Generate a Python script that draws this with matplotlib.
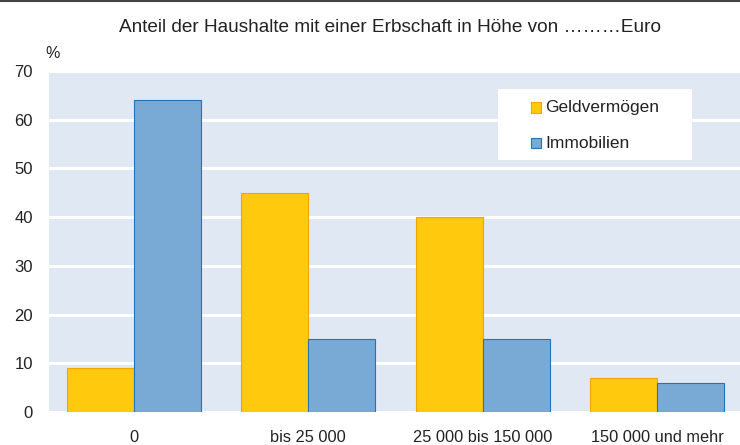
import matplotlib
matplotlib.use("Agg")
import matplotlib.pyplot as plt
from matplotlib.patches import Rectangle
from matplotlib.lines import Line2D
import numpy as np

plt.rcParams['font.family'] = ['Liberation Sans', 'DejaVu Sans']

categories = ["0", "bis 25 000", "25 000 bis 150 000", "150 000 und mehr"]
series_names = ["Geldvermögen", "Immobilien"]
geld = [9, 45, 40, 7]
immo = [64, 15, 15, 6]
yticks = [0, 10, 20, 30, 40, 50, 60, 70]
title = "Anteil der Haushalte mit einer Erbschaft in Höhe von ………Euro"

c_geld, e_geld = "#FFC90D", "#F5A300"
c_immo, e_immo = "#79AAD5", "#1F75BD"
bg = "#E0E8F4"

fig = plt.figure(figsize=(7.40, 4.45), dpi=100)
ax = fig.add_axes([49/740, 1 - 412/445, 691/740, 341/445])
ax.set_facecolor(bg)

x = np.arange(len(categories))
w = 0.384
ax.bar(x - w/2, geld, width=w, color=c_geld, edgecolor=e_geld, linewidth=0.8, zorder=3)
ax.bar(x + w/2, immo, width=w, color=c_immo, edgecolor=e_immo, linewidth=0.8, zorder=3)

ax.set_xlim(-0.4876, 3.476)
ax.set_ylim(0, 70)
ax.set_yticks(yticks)
ax.set_yticklabels([str(v) for v in yticks], fontsize=12, color="#222222")
ax.set_xticks(x)
ax.set_xticklabels(categories, fontsize=11.8, color="#222222")
ax.tick_params(axis='y', length=0, pad=11.5)
ax.tick_params(axis='x', length=0, pad=13)
for s in ax.spines.values():
    s.set_visible(False)
ax.yaxis.grid(True, color="white", linewidth=2.2, zorder=1)
ax.set_axisbelow(True)

# legend box
ax.add_patch(Rectangle((0.6498, 0.739), 0.9305 - 0.6498, 0.947 - 0.739,
                       transform=ax.transAxes, facecolor="white", edgecolor="none", zorder=4))
leg_y = [0.893, 0.788]
for name, fc, ec, yy in zip(series_names, [c_geld, c_immo], [e_geld, e_immo], leg_y):
    ax.add_patch(Rectangle((0.6975, yy - 0.015), 0.0145, 0.030, transform=ax.transAxes,
                           facecolor=fc, edgecolor=ec, linewidth=0.8, zorder=5))
    ax.text(0.7185, yy, name, transform=ax.transAxes, fontsize=12.5, color="#222222",
            va="center", ha="left", zorder=6)

fig.text(390/740, 1 - 27/445, title, fontsize=13.7, ha="center", va="center", color="#222222")
fig.text(53/740, 1 - 53/445, "%", fontsize=11.5, ha="center", va="center", color="#222222")
fig.add_artist(Line2D([0, 1], [1 - 1.2/445, 1 - 1.2/445], transform=fig.transFigure,
                      color="#444444", linewidth=1.5))

fig.savefig("out.png", dpi=100)
